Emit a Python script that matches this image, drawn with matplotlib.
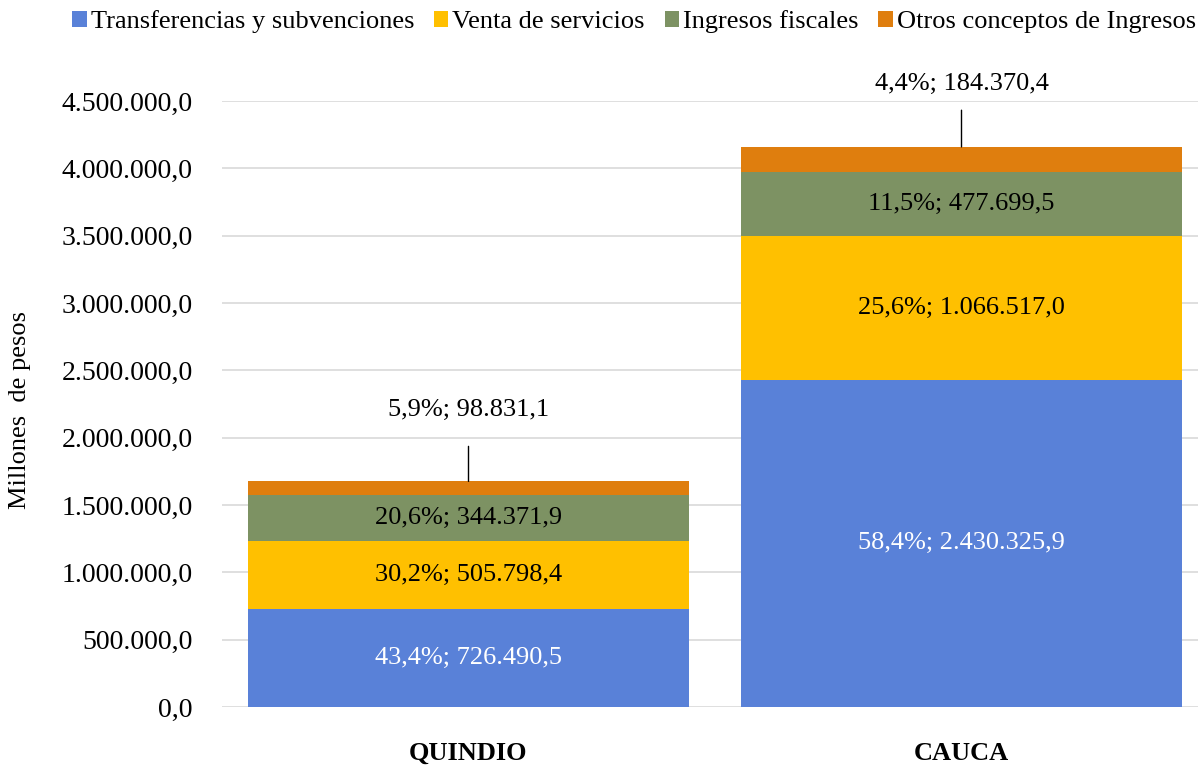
import matplotlib.pyplot as plt
from matplotlib.ticker import FuncFormatter

plt.rcParams['font.family'] = ['Liberation Serif', 'DejaVu Serif']

departments = ['QUINDIO', 'CAUCA']
series_names = ['Transferencias y subvenciones', 'Venta de servicios',
                'Ingresos fiscales', 'Otros conceptos de Ingresos']
transferencias = [726490.5, 2430325.9]
venta_servicios = [505798.4, 1066517.0]
ingresos_fiscales = [344371.9, 477699.5]
otros_conceptos = [98831.1, 184370.4]
pct_transferencias = ['43,4%', '58,4%']
pct_venta = ['30,2%', '25,6%']
pct_fiscales = ['20,6%', '11,5%']
pct_otros = ['5,9%', '4,4%']

colors = ['#5981d8', '#ffc000', '#7d9263', '#df7e0e']
label_colors = ['white', 'black', 'black', 'black']
FS = 19


def es_num(v, dec=1):
    s = f'{v:,.{dec}f}'
    return s.replace(',', 'X').replace('.', ',').replace('X', '.')


fig = plt.figure(figsize=(11.98, 7.65), dpi=100)
ax = fig.add_axes([222 / 1198, 1 - 707 / 765, (1198 - 222) / 1198, (707 - 101) / 765])

x = list(range(len(departments)))
width = 441 / 493
series = [transferencias, venta_servicios, ingresos_fiscales, otros_conceptos]
pcts = [pct_transferencias, pct_venta, pct_fiscales, pct_otros]
bottom = [0.0] * len(departments)
for vals, pct, name, col, lcol in zip(series, pcts, series_names, colors, label_colors):
    ax.bar(x, vals, width, bottom=bottom, color=col, label=name, zorder=2)
    if name != series_names[-1]:
        for i, v in enumerate(vals):
            ax.text(x[i], bottom[i] + v / 2, f'{pct[i]}; {es_num(v)}',
                    ha='center', va='center', color=lcol, fontsize=FS, zorder=3)
    bottom = [b + v for b, v in zip(bottom, vals)]

# labels for the thin top segment, with leader lines
offsets = [71, 63]
gaps = [16, 9]
for i, v in enumerate(otros_conceptos):
    ax.annotate(f'{pct_otros[i]}; {es_num(v)}', xy=(x[i], bottom[i]),
                xytext=(0, offsets[i]), textcoords='offset pixels',
                ha='center', va='center', fontsize=FS, annotation_clip=False,
                arrowprops=dict(arrowstyle='-', color='black', lw=1,
                                shrinkA=gaps[i], shrinkB=0))

ax.set_ylim(0, 4500000)
ax.set_xlim(-0.5, 1.5 - 10 / 493)
ax.set_yticks(range(0, 4500001, 500000))
ax.yaxis.set_major_formatter(FuncFormatter(lambda v, p: es_num(v)))
ax.set_xticks(x)
ax.set_xticklabels(departments, fontweight='bold')
ax.tick_params(axis='y', length=0, pad=21, labelsize=20)
ax.tick_params(axis='x', length=0, pad=25, labelsize=19)
ax.grid(axis='y', color='#d9d9d9', lw=1.2, zorder=0)
ax.set_axisbelow(True)
for s in ax.spines.values():
    s.set_visible(False)

ax.set_ylabel('Millones  de pesos', fontsize=FS)
ax.yaxis.set_label_coords(-(222 - 31) / 976, 0.49)

ax.legend(loc='center', bbox_to_anchor=(634 / 1198, 1 - 22 / 765),
          bbox_transform=fig.transFigure, ncol=4, frameon=False, fontsize=FS,
          handlelength=0.55, handleheight=0.55, handletextpad=0.15,
          columnspacing=0.75, borderaxespad=0)

fig.savefig('out.png', dpi=100)
